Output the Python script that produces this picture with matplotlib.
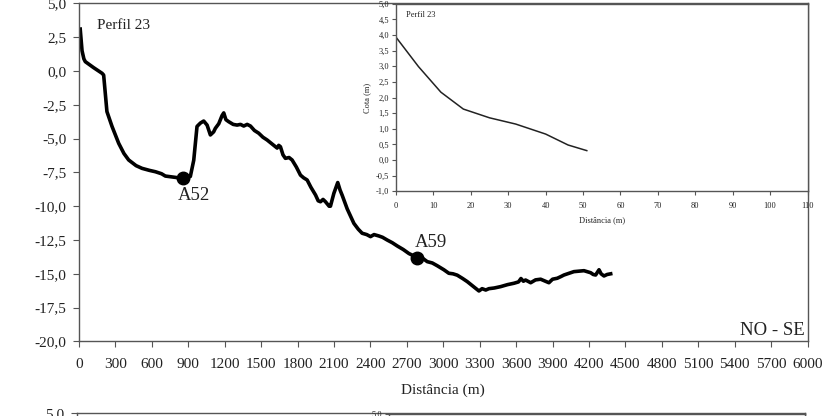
import matplotlib.pyplot as plt
import numpy as np
from matplotlib.ticker import FuncFormatter

plt.rcParams['font.family'] = ['Liberation Serif', 'DejaVu Serif']

# main profile (distance in m, elevation in m)
dist = [10, 25, 40, 52, 120, 190, 203, 230, 272, 327, 370, 409, 470, 519, 580, 629, 680, 711, 780,
        862, 917, 945, 972, 1000, 1027, 1055, 1082, 1109, 1123, 1151, 1178, 1192, 1210, 1233, 1270,
        1302, 1330, 1357, 1385, 1412, 1445, 1480, 1515, 1549, 1590, 1632, 1645, 1659, 1680, 1700,
        1730, 1755, 1790, 1824, 1850, 1879, 1910, 1948, 1970, 1989, 2010, 2030, 2060, 2071, 2099,
        2131, 2150, 2168, 2209, 2264, 2300, 2332, 2370, 2401, 2430, 2469, 2500, 2538, 2580, 2621,
        2670, 2717, 2786, 2830, 2868, 2910, 2950, 3005, 3046, 3080, 3115, 3160, 3198, 3250, 3294,
        3320, 3350, 3376, 3420, 3472, 3530, 3582, 3620, 3640, 3660, 3678, 3720, 3760, 3802, 3840,
        3870, 3900, 3939, 3970, 3994, 4040, 4076, 4120, 4159, 4190, 4214, 4235, 4255, 4283, 4300,
        4324, 4350, 4379]
cota = [3.1, 1.5, 0.9, 0.69, 0.25, -0.17, -0.3, -3.0, -4.1, -5.35, -6.1, -6.58, -7.0, -7.2, -7.35,
        -7.45, -7.6, -7.77, -7.85, -7.95, -7.8, -6.6, -4.1, -3.85, -3.7, -4.0, -4.73, -4.5, -4.24,
        -3.9, -3.3, -3.1, -3.6, -3.75, -3.95, -4.0, -3.95, -4.07, -3.95, -4.07, -4.4, -4.6, -4.9,
        -5.1, -5.4, -5.7, -5.5, -5.6, -6.2, -6.46, -6.4, -6.58, -7.1, -7.7, -7.9, -8.06, -8.6,
        -9.17, -9.6, -9.67, -9.5, -9.67, -10.0, -10.0, -9.05, -8.25, -8.8, -9.2, -10.2, -11.27,
        -11.7, -12.0, -12.1, -12.25, -12.1, -12.2, -12.3, -12.5, -12.7, -12.94, -13.2, -13.5, -13.8,
        -13.85, -14.1, -14.2, -14.4, -14.7, -14.96, -15.0, -15.1, -15.35, -15.58, -15.95, -16.27,
        -16.1, -16.2, -16.1, -16.05, -15.95, -15.8, -15.7, -15.6, -15.35, -15.55, -15.46, -15.66,
        -15.45, -15.4, -15.55, -15.66, -15.4, -15.33, -15.2, -15.09, -14.95, -14.84, -14.8, -14.77,
        -14.85, -14.92, -15.05, -15.09, -14.7, -15.0, -15.16, -15.05, -15.0]

points = ["A52", "A59"]
points_d = [860, 2780]
points_c = [-7.9, -13.8]

# inset beach profile
ins_d = [0, 6, 12, 18, 25, 32, 40, 46, 51]
ins_c = [3.93, 2.99, 2.17, 1.63, 1.35, 1.15, 0.83, 0.48, 0.30]

xticks = np.arange(0, 6001, 300)
yticks = np.arange(-20, 5.1, 2.5)
ins_xticks = np.arange(0, 111, 10)
ins_yticks = np.arange(-1, 5.01, 0.5)

comma = FuncFormatter(lambda v, p: ("%.1f" % v).replace(".", ","))
frame = "#555555"
txt = "#222222"


def style(ax, size, length, pad):
    for s in ax.spines.values():
        s.set_color(frame)
        s.set_linewidth(1.0)
    ax.tick_params(direction="out", length=length, width=0.8, color=frame,
                   labelsize=size, labelcolor=txt, pad=pad)


fig = plt.figure(figsize=(8.24, 4.16), dpi=100)

ax = fig.add_axes([79 / 824, 1 - 341.4 / 416, 728.5 / 824, 338 / 416])
ax.plot(dist, cota, color="black", lw=2.6, solid_joinstyle="round")
ax.plot(points_d, points_c, "o", color="black", ms=9)
ax.text(950, -9.2, points[0], fontsize=13.5, ha="center", va="center", color=txt)
ax.text(2897, -12.7, points[1], fontsize=13.5, ha="center", va="center", color=txt)
ax.text(151, 3.4, "Perfil 23", fontsize=11, ha="left", va="center", color=txt)
ax.text(5975, -19.2, "NO - SE", fontsize=13.5, ha="right", va="center", color=txt)
ax.set_xlim(0, 6000)
ax.set_ylim(-20, 5)
ax.set_xticks(xticks)
ax.set_yticks(yticks)
ax.yaxis.set_major_formatter(comma)
style(ax, 11, 4, 5)
ax.tick_params(axis="x", pad=8)
ax.set_xlabel("Distância (m)", fontsize=11, color=txt, labelpad=9)

ins = fig.add_axes([396 / 824, 1 - 191.25 / 416, 411.5 / 824, 187.5 / 416])
ins.plot(ins_d, ins_c, color="#222222", lw=1.1)
ins.text(2.7, 4.64, "Perfil 23", fontsize=6, ha="left", va="center", color=txt)
ins.set_xlim(0, 110)
ins.set_ylim(-1, 5)
ins.set_xticks(ins_xticks)
ins.set_yticks(ins_yticks)
ins.yaxis.set_major_formatter(comma)
style(ins, 6, 3, 2)
ins.tick_params(axis="x", pad=5)
ins.set_xlabel("Distância (m)", fontsize=6, color=txt, labelpad=4)
ins.set_ylabel("Cota (m)", fontsize=6, color=txt, labelpad=3)

# top edge of the next panel, cut off by the figure border
ax2 = fig.add_axes([77 / 824, 1 - (413 + 338) / 416, 728 / 824, 338 / 416])
ax2.set_xlim(0, 6000)
ax2.set_ylim(-20, 5)
ax2.set_xticks([])
ax2.set_yticks([5.0])
ax2.yaxis.set_major_formatter(comma)
style(ax2, 11, 4, 5)

ins2 = fig.add_axes([389 / 824, 1 - (414 + 187.5) / 416, 416 / 824, 187.5 / 416])
ins2.set_xlim(0, 110)
ins2.set_ylim(-1, 5)
ins2.set_xticks([])
ins2.set_yticks([5.0])
ins2.yaxis.set_major_formatter(comma)
style(ins2, 6, 3, 2)

fig.savefig("out.png", dpi=100)
